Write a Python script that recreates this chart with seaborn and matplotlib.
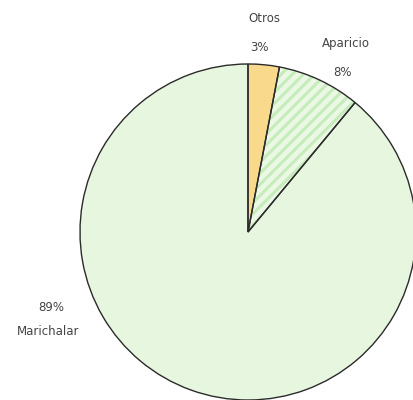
import matplotlib
matplotlib.use("Agg")
import matplotlib.pyplot as plt
import seaborn as sns

# Data
labels = ["Otros", "Aparicio", "Marichalar"]
shares = [3, 8, 89]
pct_labels = ["3%", "8%", "89%"]

sns.set_theme(style="white")
plt.rcParams['font.family'] = ['DejaVu Sans']
plt.rcParams['hatch.linewidth'] = 2.2

fig = plt.figure(figsize=(4.14, 4.0), dpi=100)
# pie centre at (248, 232) px, radius 168 px
ax = fig.add_axes([80 / 414, 0.0, 336 / 414, 336 / 400])

colors = ["#f9d98c", "#eaf8e4", "#e7f6df"]
# filled wedges (hatch drawn in light green via edgecolor)
wedges, _ = ax.pie(shares, startangle=90, counterclock=False, colors=colors,
                   wedgeprops=dict(linewidth=0))
wedges[1].set_hatch("///")
wedges[1].set_edgecolor("#c6ecbc")
# dark outlines on top
outlines, _ = ax.pie(shares, startangle=90, counterclock=False,
                     wedgeprops=dict(fill=False, edgecolor="#2b2b2b", linewidth=1.0))
for w in list(wedges) + list(outlines):
    w.set_clip_on(False)
ax.set_xlim(-1, 1)
ax.set_ylim(-1, 1)
ax.set_aspect("equal")
ax.axis("off")

txt = dict(fontsize=8.5, color="#444444", ha="center", va="center")
name_pos = [(0.10, 1.27), (0.58, 1.125), (-1.19, -0.595)]
pct_pos = [(0.07, 1.10), (0.565, 0.95), (-1.17, -0.45)]
for name, pct, (nx, ny), (px, py) in zip(labels, pct_labels, name_pos, pct_pos):
    ax.text(nx, ny, name, **txt)
    ax.text(px, py, pct, **txt)

fig.savefig("out.png", dpi=100)
